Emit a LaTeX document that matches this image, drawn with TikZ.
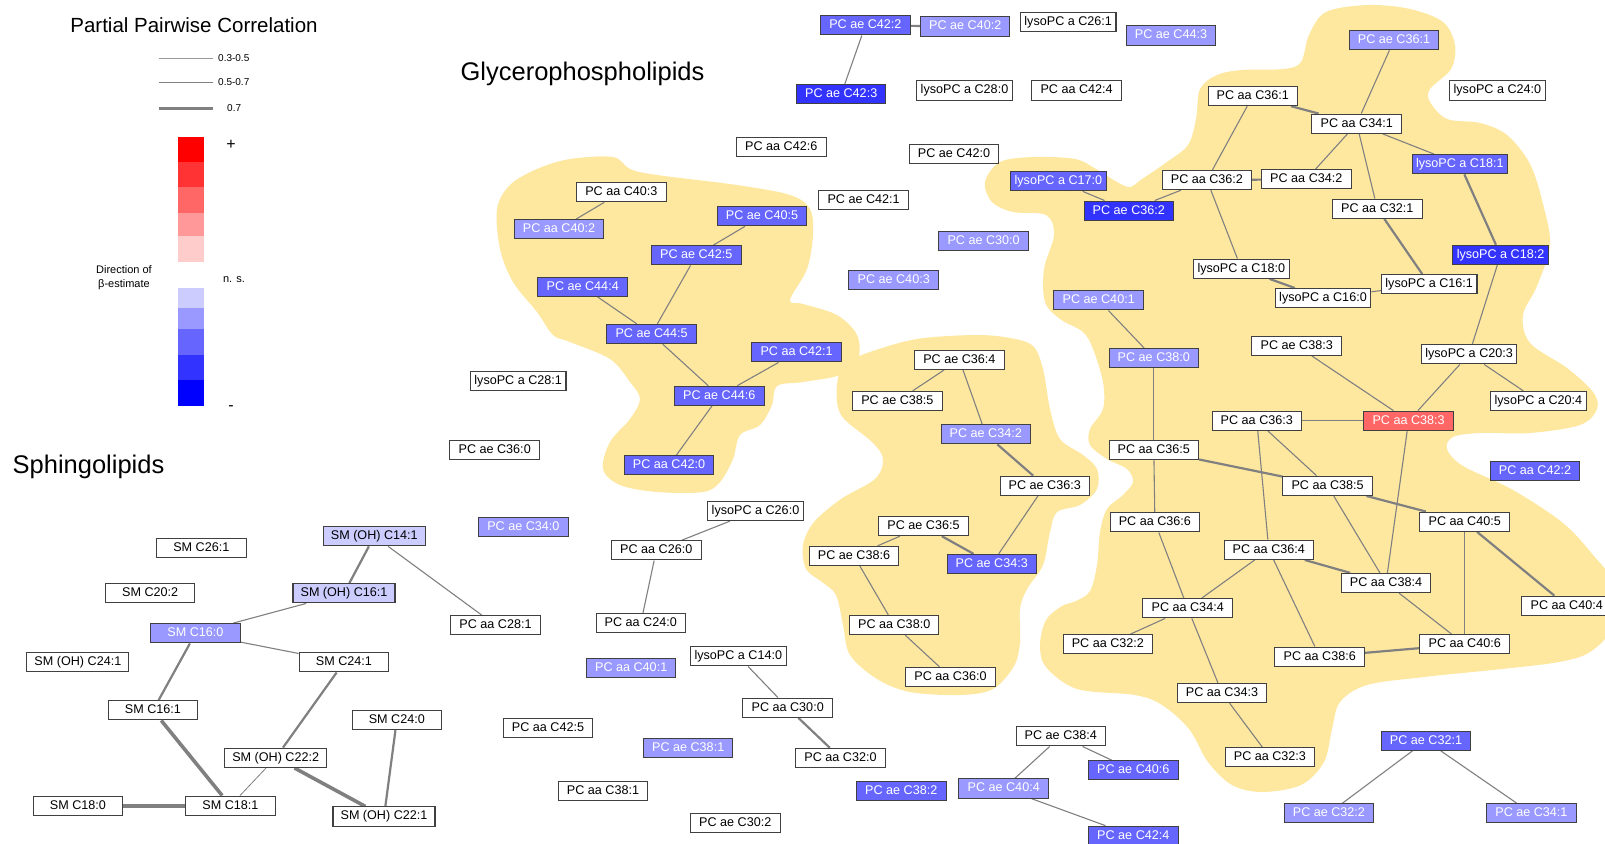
\documentclass[tikz,border=0pt]{standalone}
\usepackage{fontspec}
\setmainfont{Liberation Sans}
\usetikzlibrary{backgrounds}
\definecolor{cbA}{HTML}{CCCCFF}
\definecolor{cbB}{HTML}{9999FF}
\definecolor{cbC}{HTML}{6666FF}
\definecolor{cbD}{HTML}{3333FF}
\definecolor{cbE}{HTML}{0000FF}
\definecolor{crA}{HTML}{FFCCCC}
\definecolor{crB}{HTML}{FF9999}
\definecolor{crC}{HTML}{FF6666}
\definecolor{crD}{HTML}{FF3333}
\definecolor{crE}{HTML}{FF0000}
\definecolor{blobc}{HTML}{FEE8A0}
\definecolor{edgec}{HTML}{808080}
\definecolor{bordc}{HTML}{404040}
\begin{document}
\begin{tikzpicture}[x=1pt,y=-1pt,
  nd/.style={draw=bordc,line width=1.05pt,rectangle,fill=white,minimum width=89.5pt,minimum height=19.3pt,
    inner xsep=4pt,inner ysep=0pt,font=\fontsize{12.6}{14}\selectfont,text height=9.1pt,text depth=2.4pt},
  wide/.style={minimum width=102pt},
  nbA/.style={fill=cbA},
  nbB/.style={fill=cbB,text=white},
  nbC/.style={fill=cbC,text=white},
  nbD/.style={fill=cbD,text=white},
  nrC/.style={fill=crC,text=white},
  thinE/.style={draw=edgec,line width=1.1pt},
  medE/.style={draw=edgec,line width=2.2pt},
  thickE/.style={draw=edgec,line width=3.6pt},
  lbl/.style={inner sep=0pt,font=\fontsize{10}{12}\selectfont},
  heading/.style={inner sep=0pt,font=\fontsize{25.5}{30}\selectfont}
]
\useasboundingbox (0,0) rectangle (1605,843);

% ---------- legend ----------
\node[inner sep=0pt,font=\fontsize{20.5}{24}\selectfont] (ttl) at (194,25) {Partial Pairwise Correlation};
\coordinate (la1) at (159,58.5); \coordinate (lb1) at (213,58.5);
\coordinate (la2) at (159,82.5); \coordinate (lb2) at (213,82.5);
\coordinate (la3) at (159,108); \coordinate (lb3) at (213,108);
\draw[thinE,draw=edgec!80] (la1) -- (lb1);
\draw[medE,line width=1.8pt] (la2) -- (lb2);
\draw[thickE,line width=3pt] (la3) -- (lb3);
\node[lbl,anchor=west] (lt1) at (218,58.5) {0.3-0.5};
\node[lbl,anchor=west] (lt2) at (218,82.5) {0.5-0.7};
\node[lbl,anchor=west] (lt3) at (227,108) {0.7};
\fill[crE] (178,137) rectangle (204,162);
\fill[crD] (178,162) rectangle (204,187);
\fill[crC] (178,187) rectangle (204,213);
\fill[crB] (178,213) rectangle (204,236);
\fill[crA] (178,236) rectangle (204,262);
\fill[cbA] (178,288) rectangle (204,308);
\fill[cbB] (178,308) rectangle (204,329);
\fill[cbC] (178,329) rectangle (204,355);
\fill[cbD] (178,355) rectangle (204,380);
\fill[cbE] (178,380) rectangle (204,406);
\node[inner sep=0pt,font=\fontsize{16}{18}\selectfont] (plus) at (231,145) {+};
\node[inner sep=0pt,font=\fontsize{16}{18}\selectfont] (minus) at (231,408) {-};
\node[inner sep=0pt,font=\fontsize{11}{13}\selectfont] (ns) at (234,280) {n. s.};
\node[inner sep=0pt,align=center,font=\fontsize{11}{14}\selectfont] (dir) at (124,277.5) {Direction of\\β-estimate};

% ---------- headings ----------
\node[heading] (hgly) at (582.5,73.5) {Glycerophospholipids};
\node[heading] (hsph) at (88.5,466.5) {Sphingolipids};

\begin{scope}[yshift=-2pt]
% ---------- nodes: top ----------
\node[nd,nbC] (ae42_2) at (865.4,23.3) {PC ae C42:2};
\node[nd,nbB] (ae40_2) at (965.2,24.5) {PC ae C40:2};
\node[nd] (ly26_1) at (1068.2,20.2) {lysoPC a C26:1};
\node[nd,nbB] (ae44_3) at (1171,33.5) {PC ae C44:3};
\node[nd,nbD] (ae42_3) at (841.2,92.2) {PC ae C42:3};
\node[nd] (ly28_0) at (964.5,88.5) {lysoPC a C28:0};
\node[nd] (aa42_4) at (1076.6,88.5) {PC aa C42:4};
\node[nd,nbB] (ae36_1) at (1394,38) {PC ae C36:1};
\node[nd] (ly24_0) at (1497.4,88.5) {lysoPC a C24:0};
\node[nd] (aa36_1) at (1252.8,94) {PC aa C36:1};
\node[nd] (aa34_1) at (1356.7,121.7) {PC aa C34:1};
\node[nd,nbC] (ly18_1) at (1459.8,162.2) {lysoPC a C18:1};
\node[nd,nbC] (ly17_0) at (1058.4,179.2) {lysoPC a C17:0};
\node[nd] (aa36_2) at (1206.9,178) {PC aa C36:2};
\node[nd] (aa34_2) at (1306.3,177.3) {PC aa C34:2};
\node[nd,nbD] (ae36_2) at (1128.8,208.7) {PC ae C36:2};
\node[nd] (aa32_1) at (1377.3,206.7) {PC aa C32:1};
\node[nd,nbD] (ly18_2) at (1500.5,253) {lysoPC a C18:2};
\node[nd] (ly18_0) at (1241.3,266.7) {lysoPC a C18:0};
\node[nd] (ly16_1) at (1429.2,282.2) {lysoPC a C16:1};
\node[nd] (ly16_0) at (1323,296.2) {lysoPC a C16:0};
\node[nd,nbB] (ae40_1) at (1098.7,298.3) {PC ae C40:1};
\node[nd] (aa42_6) at (781.3,145.2) {PC aa C42:6};
\node[nd] (ae42_0) at (954,152.3) {PC ae C42:0};
\node[nd] (ae42_1) at (863.6,198.3) {PC ae C42:1};
\node[nd,nbB] (ae30_0) at (983.6,239.2) {PC ae C30:0};
\node[nd,nbB] (ae40_3) at (893.7,278.2) {PC ae C40:3};

% ---------- left cluster ----------
\node[nd] (aa40_3) at (621.4,190.2) {PC aa C40:3};
\node[nd,nbB] (aa40_2) at (559,227.2) {PC aa C40:2};
\node[nd,nbC] (ae40_5) at (762,214.2) {PC ae C40:5};
\node[nd,nbC] (ae42_5) at (696.3,253.3) {PC ae C42:5};
\node[nd,nbC] (ae44_4) at (582.7,284.7) {PC ae C44:4};
\node[nd,nbC] (ae44_5) at (651.6,332) {PC ae C44:5};
\node[nd,nbC] (aa42_1) at (796.6,350.3) {PC aa C42:1};
\node[nd,nbC] (ae44_6) at (719.3,393.8) {PC ae C44:6};
\node[nd,nbC] (aa42_0) at (669,463.3) {PC aa C42:0};
\node[nd] (ly28_1) at (518.2,379.3) {lysoPC a C28:1};
\node[nd] (ae36_0) at (494.7,448.2) {PC ae C36:0};
\node[nd] (ly26_0) at (755.5,509) {lysoPC a C26:0};
\node[nd,nbB] (ae34_0) at (523.4,524.7) {PC ae C34:0};
\node[nd] (aa26_0) at (656.3,548.3) {PC aa C26:0};

% ---------- middle cluster ----------
\node[nd] (ae36_4) at (959.4,357.8) {PC ae C36:4};
\node[nd] (ae38_5) at (897.4,399) {PC ae C38:5};
\node[nd,nbB] (ae34_2) at (985.8,432.3) {PC ae C34:2};
\node[nd] (ae36_3) at (1044.8,483.8) {PC ae C36:3};
\node[nd] (ae36_5) at (923.5,524) {PC ae C36:5};
\node[nd] (ae38_6) at (854,554) {PC ae C38:6};
\node[nd,nbC] (ae34_3) at (991.8,562) {PC ae C34:3};
\node[nd] (aa38_0) at (894.2,623) {PC aa C38:0};
\node[nd] (aa36_0) at (950.5,675) {PC aa C36:0};

% ---------- right cluster ----------
\node[nd,nbB] (ae38_0) at (1153.8,356.2) {PC ae C38:0};
\node[nd] (ae38_3) at (1296.7,343.8) {PC ae C38:3};
\node[nd] (ly20_3) at (1469.1,352.3) {lysoPC a C20:3};
\node[nd] (ly20_4) at (1538.4,399) {lysoPC a C20:4};
\node[nd] (aa36_3) at (1256.8,418.8) {PC aa C36:3};
\node[nd,nrC] (aa38_3) at (1408.6,418.8) {PC aa C38:3};
\node[nd] (aa36_5) at (1153.8,448.2) {PC aa C36:5};
\node[nd,nbC] (aa42_2) at (1535,469.3) {PC aa C42:2};
\node[nd] (aa38_5) at (1327.6,483.8) {PC aa C38:5};
\node[nd] (aa36_6) at (1154.9,520.3) {PC aa C36:6};
\node[nd] (aa40_5) at (1464.7,519.7) {PC aa C40:5};
\node[nd] (aa36_4) at (1268.8,547.8) {PC aa C36:4};
\node[nd] (aa38_4) at (1386,581) {PC aa C38:4};
\node[nd] (aa40_4) at (1566.7,603.8) {PC aa C40:4};
\node[nd] (aa34_4) at (1187.7,606.2) {PC aa C34:4};
\node[nd] (aa32_2) at (1107.9,642.3) {PC aa C32:2};
\node[nd] (aa38_6) at (1319.7,654.7) {PC aa C38:6};
\node[nd] (aa40_6) at (1464.7,642.3) {PC aa C40:6};
\node[nd] (aa34_3) at (1222,691) {PC aa C34:3};
\node[nd] (aa32_3) at (1269.9,755.3) {PC aa C32:3};

% ---------- bottom ----------
\node[nd] (ae38_4) at (1060.8,734.3) {PC ae C38:4};
\node[nd,nbC] (ae40_6) at (1133.3,768.3) {PC ae C40:6};
\node[nd,nbB] (ae40_4) at (1003.7,786.5) {PC ae C40:4};
\node[nd,nbC] (ae42_4) at (1133.3,833.8) {PC ae C42:4};
\node[nd,nbC] (ae32_1) at (1426,738.7) {PC ae C32:1};
\node[nd,nbB] (ae32_2) at (1328.9,811.3) {PC ae C32:2};
\node[nd,nbB] (ae34_1) at (1531.4,811.3) {PC ae C34:1};
\node[nd] (aa24_0) at (640.8,621.2) {PC aa C24:0};
\node[nd,nbB] (aa40_1) at (631.2,666) {PC aa C40:1};
\node[nd] (ly14_0) at (738.3,654.3) {lysoPC a C14:0};
\node[nd] (aa30_0) at (787.7,705.7) {PC aa C30:0};
\node[nd] (aa42_5) at (548,726) {PC aa C42:5};
\node[nd,nbB] (ae38_1) at (688.2,746) {PC ae C38:1};
\node[nd] (aa32_0) at (840.5,756) {PC aa C32:0};
\node[nd] (aa38_1) at (603,788.7) {PC aa C38:1};
\node[nd,nbC] (ae38_2) at (901.3,788.7) {PC ae C38:2};
\node[nd] (ae30_2) at (735.3,821.3) {PC ae C30:2};

% ---------- sphingolipids ----------
\node[nd,wide,nbA] (smoh14_1) at (374.3,534.2) {SM (OH) C14:1};
\node[nd] (sm26_1) at (201.3,546) {SM C26:1};
\node[nd] (sm20_2) at (150.2,591.2) {SM C20:2};
\node[nd,wide,nbA] (smoh16_1) at (344,591.2) {SM (OH) C16:1};
\node[nd] (aa28_1) at (495.5,623.2) {PC aa C28:1};
\node[nd,nbB] (sm16_0) at (195.5,631.3) {SM C16:0};
\node[nd,wide] (smoh24_1) at (77.9,660.3) {SM (OH) C24:1};
\node[nd] (sm24_1) at (343.9,660.3) {SM C24:1};
\node[nd] (sm16_1) at (153,708.3) {SM C16:1};
\node[nd] (sm24_0) at (396.8,718) {SM C24:0};
\node[nd,wide] (smoh22_2) at (275.7,755.8) {SM (OH) C22:2};
\node[nd] (sm18_0) at (77.9,803.7) {SM C18:0};
\node[nd] (sm18_1) at (230.4,803.7) {SM C18:1};
\node[nd,wide] (smoh22_1) at (384,814.5) {SM (OH) C22:1};

\begin{pgfonlayer}{background}
\fill[white] (0,-10) rectangle (1605,843);
% blob A
\fill[blobc] plot[smooth cycle,tension=0.55] coordinates {
(497,207) (510,183) (537,167) (570,157) (613,155) (630,167) (657,173) (737,183) (790,193) (810,207)
(813,233) (807,267) (790,298) (803,302) (837,313) (857,333) (858,357) (840,373) (803,380) (777,384)
(772,403) (760,423) (740,433) (733,457) (720,480) (703,490) (657,490) (620,483) (603,467) (610,440)
(630,417) (640,397) (630,380) (610,357) (570,340) (553,333) (537,310) (513,280) (500,247)};
% blob B
\fill[blobc] plot[smooth cycle,tension=0.55] coordinates {
(837,383) (845,362) (870,350) (917,337) (975,333) (1010,336) (1033,344) (1043,367) (1050,407) (1060,437)
(1083,453) (1097,467) (1097,487) (1080,503) (1057,510) (1050,530) (1043,563) (1027,587) (1020,607)
(1020,640) (1014,664) (993,687) (960,693) (910,690) (877,677) (850,653) (843,623) (836,593) (822,580)
(806,567) (803,543) (814,520) (841,497) (875,477) (883,457) (872,440) (841,413)};
% blob C
\fill[blobc] plot[smooth cycle,tension=0.55] coordinates {
(985,180) (1000,160) (1033,155) (1075,157) (1096,167) (1117,180) (1130,185) (1142,177) (1167,160)
(1188,143) (1196,117) (1200,87) (1217,73) (1242,68) (1284,67) (1301,60) (1309,33) (1326,10) (1368,3)
(1410,7) (1443,20) (1455,43) (1451,67) (1430,87) (1430,100) (1447,117) (1480,121) (1507,133) (1530,162)
(1543,202) (1550,243) (1537,284) (1523,313) (1530,341) (1567,366) (1593,390) (1597,407) (1580,423)
(1530,431) (1480,431) (1453,435) (1447,447) (1463,464) (1513,488) (1563,521) (1593,553) (1612,580)
(1612,625) (1590,650) (1559,660) (1502,667) (1424,675) (1367,683) (1340,700) (1332,727) (1324,760)
(1301,783) (1262,790) (1232,783) (1208,760) (1189,727) (1162,703) (1135,693) (1077,687) (1046,665)
(1040,643) (1046,618) (1062,604) (1076,599) (1090,589) (1097,563) (1100,530) (1107,507) (1123,493)
(1133,480) (1127,467) (1107,457) (1090,443) (1090,427) (1103,407) (1103,380) (1093,347) (1083,330)
(1060,317) (1045,300) (1044,267) (1054,233) (1046,213) (1013,210) (992,200)};

% edges
\draw[medE] (ae42_2) -- (ae40_2);
\draw[thinE] (ae42_2) -- (ae42_3);
\draw[thinE] (aa40_3) -- (aa40_2);
\draw[thinE] (ae40_5) -- (ae42_5);
\draw[thinE] (ae42_5) -- (ae44_5);
\draw[thinE] (ae44_4) -- (ae44_5);
\draw[thinE] (ae44_5) -- (ae44_6);
\draw[thinE] (aa42_1) -- (ae44_6);
\draw[thinE] (ae44_6) -- (aa42_0);
\draw[thinE] (ae36_4) -- (ae38_5);
\draw[thinE] (ae36_4) -- (ae34_2);
\draw[medE] (ae34_2) -- (ae36_3);
\draw[thinE] (ae36_3) -- (ae34_3);
\draw[medE] (ae36_5) -- (ae34_3);
\draw[thinE] (ae36_5) -- (ae38_6);
\draw[thinE] (ae38_6) -- (aa38_0);
\draw[thinE] (aa38_0) -- (aa36_0);
\draw[thinE] (ae36_1) -- (aa34_1);
\draw[medE] (aa36_1) -- (aa34_1);
\draw[thinE] (aa36_1) -- (aa36_2);
\draw[thinE] (aa34_1) -- (aa34_2);
\draw[thinE] (aa34_1) -- (aa32_1);
\draw[thinE] (aa34_1) -- (ly18_1);
\draw[medE] (aa36_2) -- (aa34_2);
\draw[thinE] (aa36_2) -- (ae36_2);
\draw[thinE] (ly17_0) -- (ae36_2);
\draw[thinE] (aa36_2) -- (ly18_0);
\draw[medE] (ly18_0) -- (ly16_0);
\draw[thinE] (ly16_0) -- (ly16_1);
\draw[medE] (aa32_1) -- (ly16_1);
\draw[medE] (ly18_1) -- (ly18_2);
\draw[thinE] (ly18_2) -- (ly20_3);
\draw[thinE] (ly20_3) -- (ly20_4);
\draw[thinE] (ly20_3) -- (aa38_3);
\draw[thinE] (ae38_3) -- (aa38_3);
\draw[thinE] (ae40_1) -- (ae38_0);
\draw[thinE] (ae38_0) -- (aa36_5);
\draw[thinE] (aa36_3) -- (aa38_3);
\draw[thinE] (aa36_3) -- (aa38_5);
\draw[thinE] (aa36_3) -- (aa36_4);
\draw[thinE] (aa38_3) -- (aa38_4);
\draw[medE] (aa36_5) -- (aa38_5);
\draw[thinE] (aa36_5) -- (aa36_6);
\draw[medE] (aa38_5) -- (aa40_5);
\draw[thinE] (aa38_5) -- (aa38_4);
\draw[thinE] (aa36_6) -- (aa34_4);
\draw[thinE] (aa36_4) -- (aa34_4);
\draw[medE] (aa36_4) -- (aa38_4);
\draw[thinE] (aa36_4) -- (aa38_6);
\draw[medE] (aa40_5) -- (aa40_4);
\draw[thinE] (aa40_5) -- (aa40_6);
\draw[thinE] (aa38_4) -- (aa40_6);
\draw[medE] (aa38_6) -- (aa40_6);
\draw[thinE] (aa34_4) -- (aa32_2);
\draw[thinE] (aa34_4) -- (aa34_3);
\draw[thinE] (aa34_3) -- (aa32_3);
\draw[thinE] (ae38_4) -- (ae40_4);
\draw[thinE] (ae38_4) -- (ae40_6);
\draw[thinE] (ae40_4) -- (ae42_4);
\draw[thinE] (ae32_1) -- (ae32_2);
\draw[thinE] (ae32_1) -- (ae34_1);
\draw[thinE] (ly26_0) -- (aa26_0);
\draw[thinE] (aa26_0) -- (aa24_0);
\draw[thinE] (ly14_0) -- (aa30_0);
\draw[medE] (aa30_0) -- (aa32_0);
\draw[medE] (smoh14_1) -- (smoh16_1);
\draw[thinE] (smoh14_1) -- (aa28_1);
\draw[thinE] (smoh16_1) -- (sm16_0);
\draw[thinE] (sm16_0) -- (sm24_1);
\draw[medE] (sm16_0) -- (sm16_1);
\draw[thickE] (sm16_1) -- (sm18_1);
\draw[medE] (sm24_1) -- (smoh22_2);
\draw[thinE,line width=0.8pt] (smoh22_2) -- (sm18_1);
\draw[thickE] (smoh22_2) -- (smoh22_1);
\draw[medE] (sm24_0) -- (smoh22_1);
\draw[thickE] (sm18_0) -- (sm18_1);
\end{pgfonlayer}
\end{scope}
\end{tikzpicture}
\end{document}
